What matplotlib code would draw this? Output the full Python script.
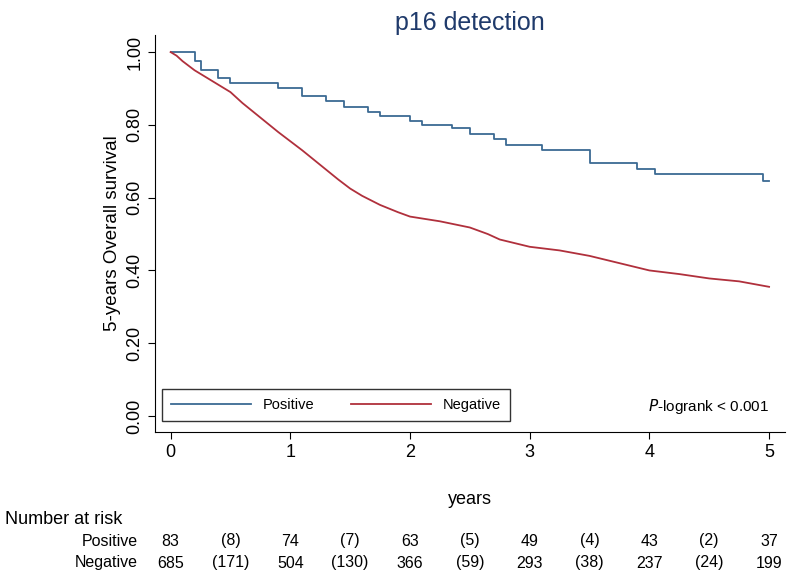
import matplotlib
matplotlib.use("Agg")
import matplotlib.pyplot as plt
plt.rcParams['font.family'] = ['Liberation Sans', 'DejaVu Sans']

pos_t = [0, 0.2, 0.25, 0.4, 0.5, 0.9, 1.1, 1.3, 1.45, 1.65, 1.75, 2.0, 2.1, 2.35, 2.5, 2.7, 2.8, 3.1, 3.5, 3.9, 4.05, 4.95, 5.0]
pos_s = [1.0, 0.975, 0.95, 0.93, 0.915, 0.90, 0.88, 0.865, 0.85, 0.835, 0.825, 0.81, 0.80, 0.79, 0.775, 0.76, 0.745, 0.73, 0.695, 0.68, 0.665, 0.645, 0.645]
neg_t = [0, 0.05, 0.1, 0.2, 0.3, 0.4, 0.5, 0.6, 0.75, 0.9, 1.0, 1.1, 1.25, 1.4, 1.5, 1.6, 1.75, 1.9, 2.0, 2.25, 2.5, 2.65, 2.75, 3.0, 3.25, 3.5, 3.75, 4.0, 4.25, 4.5, 4.75, 5.0]
neg_s = [1.0, 0.99, 0.975, 0.95, 0.93, 0.91, 0.89, 0.86, 0.82, 0.78, 0.755, 0.73, 0.69, 0.65, 0.625, 0.605, 0.58, 0.56, 0.548, 0.535, 0.518, 0.50, 0.485, 0.465, 0.455, 0.44, 0.42, 0.40, 0.39, 0.378, 0.37, 0.355]

risk_times = [0, 0.5, 1, 1.5, 2, 2.5, 3, 3.5, 4, 4.5, 5]
risk_pos = ["83", "(8)", "74", "(7)", "63", "(5)", "49", "(4)", "43", "(2)", "37"]
risk_neg = ["685", "(171)", "504", "(130)", "366", "(59)", "293", "(38)", "237", "(24)", "199"]

fig = plt.figure(figsize=(7.87, 5.73), dpi=100)
ax = fig.add_axes([0.197, 0.246, 0.8, 0.693])
ax.step(pos_t, pos_s, where="post", color="#3b6a93", lw=1.3, label="Positive")
ax.plot(neg_t, neg_s, color="#b0303c", lw=1.3, label="Negative")
ax.set_xlim(-0.13, 5.13)
ax.set_ylim(-0.044, 1.047)
ax.set_xticks([0, 1, 2, 3, 4, 5])
ax.set_yticks([0, 0.2, 0.4, 0.6, 0.8, 1.0])
ax.set_yticklabels(["0.00", "0.20", "0.40", "0.60", "0.80", "1.00"], rotation=90, va="center")
ax.tick_params(labelsize=13, length=5)
for s in ["top", "right"]:
    ax.spines[s].set_visible(False)
ax.set_ylabel("5-years Overall survival", fontsize=13.5)
ax.set_xlabel("years", fontsize=13, labelpad=22)
ax.set_title("p16 detection", fontsize=18, color="#1f3a6b", pad=0)
leg = ax.legend(loc="lower left", bbox_to_anchor=(0.0, 0.01), ncol=2, fontsize=10.5,
                fancybox=False, edgecolor="black", handlelength=5.5, columnspacing=2.5, borderpad=0.6)
ax.text(5.0, 0.0, "$P$-logrank < 0.001", ha="right", va="bottom", fontsize=11)

tr = ax.get_xaxis_transform()
fig.text(0.006, 1 - 520/573, "Number at risk", fontsize=13, va="center")
fig.text(0.175, 1 - 541/573, "Positive", fontsize=11.5, va="center", ha="right")
fig.text(0.175, 1 - 563/573, "Negative", fontsize=11.5, va="center", ha="right")
y1 = (1 - 541/573 - 0.246) / 0.693
y2 = (1 - 563/573 - 0.246) / 0.693
for t, a, b in zip(risk_times, risk_pos, risk_neg):
    ax.text(t, y1, a, transform=tr, ha="center", va="center", fontsize=11.5, clip_on=False)
    ax.text(t, y2, b, transform=tr, ha="center", va="center", fontsize=11.5, clip_on=False)

fig.savefig("out.png", dpi=100)
